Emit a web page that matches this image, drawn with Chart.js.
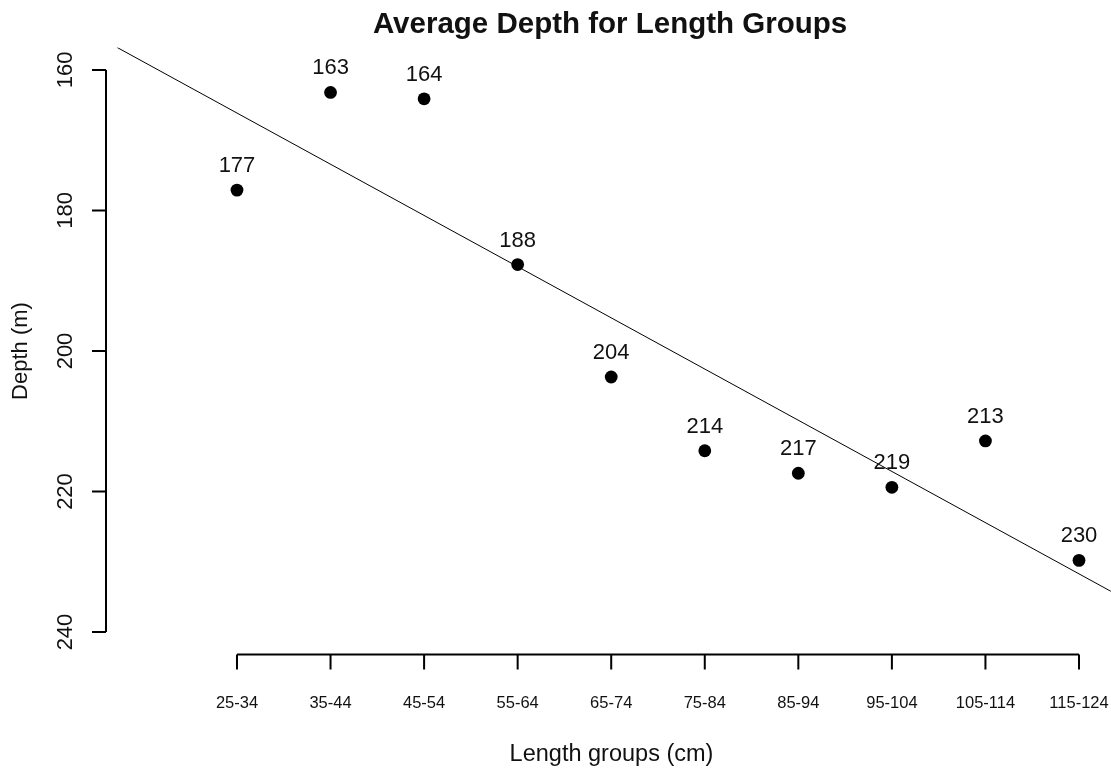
<!DOCTYPE html>
<html><head><meta charset="utf-8">
<script src="https://cdn.jsdelivr.net/npm/chart.js@4.4.1/dist/chart.umd.min.js"></script>
<style>html,body{margin:0;padding:0;background:#fff}canvas{display:block}</style>
</head><body>
<canvas id="c" width="1111" height="771"></canvas>
<script>
const chartTitle = 'Average Depth for Length Groups';
const xTitle = 'Length groups (cm)';
const yTitle = 'Depth (m)';
const lengthGroups = ['25-34','35-44','45-54','55-64','65-74','75-84','85-94','95-104','105-114','115-124'];
const groupIndex = [1,2,3,4,5,6,7,8,9,10];
const avgDepth = [177.1, 163.2, 164.1, 187.7, 203.7, 214.2, 217.4, 219.4, 212.8, 229.8];
const depthTicks = [160, 180, 200, 220, 240];
const trendX = [-0.28, 10.34];
const trendY = [156.8, 234.2];

const FONT = '"Liberation Sans", Arial, sans-serif';
const TEXT = '#111';

const rAxesPlugin = {
  id: 'rAxes',
  afterDraw(chart) {
    const ctx = chart.ctx;
    const xs = chart.scales.x, ys = chart.scales.y;
    const area = chart.chartArea;
    ctx.save();
    ctx.strokeStyle = '#000';
    ctx.fillStyle = TEXT;
    ctx.lineWidth = 2;
    ctx.lineCap = 'butt';
    // y axis
    const yTop = ys.getPixelForValue(depthTicks[0]);
    const yBot = ys.getPixelForValue(depthTicks[depthTicks.length - 1]);
    const ax = area.left;
    ctx.beginPath();
    ctx.moveTo(ax, yTop); ctx.lineTo(ax, yBot);
    depthTicks.forEach(v => {
      const p = ys.getPixelForValue(v);
      ctx.moveTo(ax, p); ctx.lineTo(ax - 14, p);
    });
    ctx.stroke();
    ctx.font = '22px ' + FONT;
    ctx.textAlign = 'center';
    ctx.textBaseline = 'alphabetic';
    depthTicks.forEach(v => {
      const p = ys.getPixelForValue(v);
      ctx.save();
      ctx.translate(72, p);
      ctx.rotate(-Math.PI / 2);
      ctx.fillText(String(v), 0, 0);
      ctx.restore();
    });
    // x axis
    const by = area.bottom;
    const xl = xs.getPixelForValue(groupIndex[0]);
    const xr = xs.getPixelForValue(groupIndex[groupIndex.length - 1]);
    ctx.beginPath();
    ctx.moveTo(xl, by); ctx.lineTo(xr, by);
    groupIndex.forEach(i => {
      const p = xs.getPixelForValue(i);
      ctx.moveTo(p, by); ctx.lineTo(p, by + 15);
    });
    ctx.stroke();
    ctx.font = '16.5px ' + FONT;
    groupIndex.forEach((i, k) => {
      ctx.fillText(lengthGroups[k], xs.getPixelForValue(i), 708);
    });
    // axis titles
    const midX = (area.left + 1117) / 2;
    ctx.font = '23.5px ' + FONT;
    ctx.fillText(xTitle, midX, 761);
    ctx.font = '22px ' + FONT;
    ctx.save();
    ctx.translate(27, (area.top + area.bottom) / 2);
    ctx.rotate(-Math.PI / 2);
    ctx.fillText(yTitle, 0, 0);
    ctx.restore();
    // main title
    ctx.font = 'bold 29.5px ' + FONT;
    ctx.fillText(chartTitle, 610, 33);
    // point labels
    ctx.font = '22px ' + FONT;
    const meta = chart.getDatasetMeta(0);
    meta.data.forEach((pt, k) => {
      ctx.fillText(String(Math.round(avgDepth[k])), pt.x, pt.y - 18);
    });
    ctx.restore();
  }
};

new Chart(document.getElementById('c'), {
  type: 'scatter',
  data: {
    datasets: [
      {
        label: 'Average depth',
        data: groupIndex.map((g, k) => ({ x: g, y: avgDepth[k] })),
        backgroundColor: '#000',
        borderColor: '#000',
        pointRadius: 6.4,
        pointHoverRadius: 6.4,
        borderWidth: 0
      },
      {
        label: 'Trend',
        data: trendX.map((x, k) => ({ x: x, y: trendY[k] })),
        showLine: true,
        borderColor: '#000',
        borderWidth: 1,
        pointRadius: 0,
        fill: false
      }
    ]
  },
  options: {
    responsive: false,
    devicePixelRatio: 1,
    animation: false,
    layout: { autoPadding: false, padding: { left: 106, right: 0, top: 47.5, bottom: 116.5 } },
    plugins: { legend: { display: false }, tooltip: { enabled: false }, title: { display: false } },
    scales: {
      x: { type: 'linear', min: -0.4, max: 10.342, display: false },
      y: { type: 'linear', min: 156.8, max: 243.2, reverse: true, display: false }
    }
  },
  plugins: [rAxesPlugin]
});
</script>
</body></html>
